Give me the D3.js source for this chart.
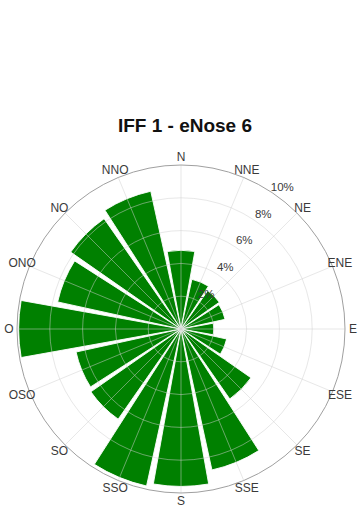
<!DOCTYPE html>
<html>
<head>
<meta charset="utf-8">
<script src="https://cdn.jsdelivr.net/npm/d3@7/dist/d3.min.js"></script>
<style>
  html, body { margin: 0; padding: 0; background: #fff; }
  svg { display: block; }
  text { font-family: "Liberation Sans", Arial, sans-serif; }
</style>
</head>
<body>
<svg id="chart" width="360" height="507"></svg>
<script>
// Wind-direction frequency (% of time) for each of the 16 compass sectors
const directions = ["N", "NNE", "NE", "ENE", "E", "ESE", "SE", "SSE",
                    "S", "SSO", "SO", "OSO", "O", "ONO", "NO", "NNO"];
const frequency = [4.8, 3.1, 2.85, 2.75, 2.0, 2.85, 5.2, 8.8,
                   9.6, 9.8, 6.7, 6.55, 9.9, 7.7, 8.2, 8.6];
const radialTicks = [2, 4, 6, 8, 10];
const radialTickLabels = ["2%", "4%", "6%", "8%", "10%"];
const title = "IFF 1 - eNose 6";

const width = 360, height = 507;
const cx = 181, cy = 329, R = 164;

const svg = d3.select("#chart");

svg.append("text")
  .attr("x", 185)
  .attr("y", 132)
  .attr("text-anchor", "middle")
  .attr("font-size", 19)
  .attr("font-weight", "bold")
  .attr("fill", "#111")
  .text(title);

const g = svg.append("g").attr("transform", `translate(${cx},${cy})`);

const r = d3.scaleLinear().domain([0, 10]).range([0, R]);
const step = 2 * Math.PI / directions.length;
const angle = d3.scaleOrdinal().domain(directions)
  .range(directions.map((d, i) => i * step));
const halfBar = step * 0.45;

// Bars
const arc = d3.arc()
  .innerRadius(0)
  .outerRadius(d => r(d.value))
  .startAngle(d => angle(d.dir) - halfBar)
  .endAngle(d => angle(d.dir) + halfBar);

const data = directions.map((dir, i) => ({ dir, value: frequency[i] }));

g.selectAll("path.bar")
  .data(data)
  .join("path")
  .attr("class", "bar")
  .attr("d", arc)
  .attr("fill", "#008000")
  .attr("stroke", "#fff")
  .attr("stroke-width", 0.9);

// Grid drawn above the bars
const grid = g.append("g").attr("stroke", "#cfcfcf").attr("stroke-opacity", 0.5).attr("fill", "none");
grid.selectAll("circle")
  .data(radialTicks.slice(0, -1))
  .join("circle")
  .attr("r", d => r(d))
  .attr("stroke-width", 1);
grid.selectAll("line")
  .data(directions)
  .join("line")
  .attr("x1", 0).attr("y1", 0)
  .attr("x2", d => R * Math.sin(angle(d)))
  .attr("y2", d => -R * Math.cos(angle(d)))
  .attr("stroke-width", 1);

// Outer boundary
g.append("circle")
  .attr("r", r(10))
  .attr("fill", "none")
  .attr("stroke", "#a0a0a0")
  .attr("stroke-width", 1);

// Compass labels
g.selectAll("text.dir")
  .data(directions)
  .join("text")
  .attr("class", "dir")
  .attr("x", d => (R + 8) * Math.sin(angle(d)))
  .attr("y", d => -(R + 8) * Math.cos(angle(d)))
  .attr("dy", "0.35em")
  .attr("text-anchor", "middle")
  .attr("font-size", 12)
  .attr("fill", "#3a3a3a")
  .text(d => d);

// Radial tick labels
const tickAngle = 35.5 * Math.PI / 180;
g.selectAll("text.tick")
  .data(radialTicks)
  .join("text")
  .attr("class", "tick")
  .attr("x", d => (r(d) + 10.5) * Math.sin(tickAngle))
  .attr("y", d => -(r(d) + 10.5) * Math.cos(tickAngle))
  .attr("dy", "0.35em")
  .attr("text-anchor", "middle")
  .attr("font-size", 11.5)
  .attr("fill", "#3a3a3a")
  .text((d, i) => radialTickLabels[i]);
</script>
</body>
</html>
